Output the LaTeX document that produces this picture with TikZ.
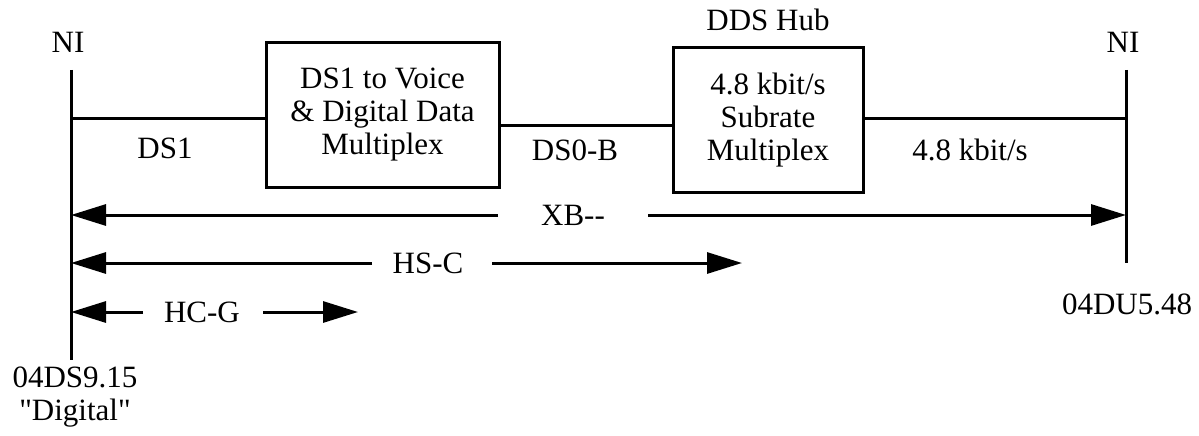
\documentclass[tikz,border=0pt]{standalone}
\usepackage{fontspec}
\setmainfont{Liberation Serif}
\newfontfamily\plainserif{Liberation Serif}
\usetikzlibrary{arrows.meta}
\begin{document}
\begin{tikzpicture}[x=1pt,y=-1pt,line width=3pt,
  every node/.style={font=\fontsize{31}{33}\selectfont,inner sep=0pt},
  box/.style={draw,line width=3pt,align=center},
  tip/.style={-{Triangle[length=35pt,width=21pt]}}]
\useasboundingbox (0,0) rectangle (1199,436);
% interfaces
\coordinate (LT) at (71,70);
\coordinate (LB) at (71,360);
\coordinate (RT) at (1126,70);
\coordinate (RB) at (1126,263);
\draw (LT) -- (LB);
\draw (RT) -- (RB);
\node (nil) at (68,42) {NI};
\node (nir) at (1123,42) {NI};
\node[align=center] (codel) at (75,397) {04DS9.15\\{\plainserif "}Digital{\plainserif "}};
\node (coder) at (1127,304) {04DU5.48};
% boxes
\node[box,minimum width=233pt,minimum height=144pt] (box1) at (382.5,115) {DS1 to Voice\\\& Digital Data\\Multiplex};
\node[box,minimum width=190pt,minimum height=144pt] (box2) at (768,120) {4.8 kbit/s\\Subrate\\Multiplex};
\node (hub) at (768,20) {DDS Hub};
% links
\coordinate (y1) at (0,118);
\coordinate (y2) at (0,125);
\draw (LT |- y1) -- (box1.west |- y1);
\draw (box1.east |- y2) -- (box2.west |- y2);
\draw (box2.east |- y1) -- (RT |- y1);
\node (ds1) at (165,148) {DS1};
\node (ds0) at (575,150) {DS0-B};
\node (kb) at (970,150) {4.8 kbit/s};
% spans
\node (xb) at (573,215) {XB-{}-};
\node (hs) at (428,263) {HS-C};
\node (hc) at (202,312) {HC-G};
\coordinate (xbL) at (498,215);
\coordinate (xbR) at (648,215);
\coordinate (hsL) at (372,263);
\coordinate (hsR) at (492,263);
\coordinate (hsE) at (742,263);
\coordinate (hcL) at (143,312);
\coordinate (hcR) at (263,312);
\coordinate (hcE) at (358,312);
\draw[tip] (xbL) -- (LT |- xbL);
\draw[tip] (xbR) -- (RT |- xbR);
\draw[tip] (hsL) -- (LT |- hsL);
\draw[tip] (hsR) -- (hsE);
\draw[tip] (hcL) -- (LT |- hcL);
\draw[tip] (hcR) -- (hcE);
\end{tikzpicture}
\end{document}
